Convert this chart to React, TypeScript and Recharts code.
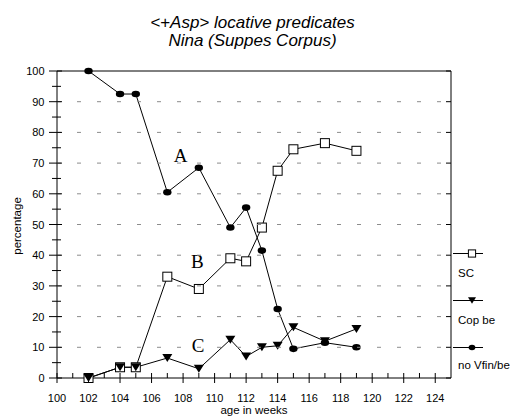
import React from "react";
import { ComposedChart, Line, XAxis, YAxis, ReferenceDot } from "recharts";

// age in weeks where a sample was taken
const weeks = [102, 104, 105, 107, 109, 111, 112, 113, 114, 115, 117, 119];

// percentages per series
const scValues = [0, 3.5, 3.5, 33, 29, 39, 38, 49, 67.5, 74.5, 76.5, 74];
const copBeValues = [0, 3.5, 3.5, 6.5, 3, 12.5, 7, 10, 10.5, 16.5, 12, 16];
const noVfinValues = [100, 92.5, 92.5, 60.5, 68.5, 49, 55.5, 41.5, 22.5, 9.5, 11.5, 10];

const xTicks = [
  100, 101, 102, 103, 104, 105, 106, 107, 108, 109, 110, 111, 112,
  113, 114, 115, 116, 117, 118, 119, 120, 121, 122, 123, 124,
];
const yTicks = [0, 5, 10, 15, 20, 25, 30, 35, 40, 45, 50, 55, 60, 65, 70, 75, 80, 85, 90, 95, 100];
const gridValues = [10, 20, 30, 40, 50, 60, 70, 80, 90];

// phase labels drawn inside the plot
const annotations = [
  { label: "A", week: 107.85, pct: 70.4 },
  { label: "B", week: 108.9, pct: 35.8 },
  { label: "C", week: 108.95, pct: 8.6 },
];

const SANS = "'Liberation Sans', Arial, sans-serif";
const SERIF = "'Liberation Serif', 'Times New Roman', serif";

// chart box
const W = 512;
const H = 417;
const MARGIN = { top: 71, right: 61, bottom: 9, left: 0 };
const Y_AXIS_W = 57;
const X_AXIS_H = 30;
const PLOT_W = W - MARGIN.left - MARGIN.right - Y_AXIS_W;
const PLOT_H = H - MARGIN.top - MARGIN.bottom - X_AXIS_H;

type MarkerKind = "square" | "triangle" | "circle";

const series: { key: string; name: string; marker: MarkerKind }[] = [
  { key: "sc", name: "SC", marker: "square" },
  { key: "copBe", name: "Cop be", marker: "triangle" },
  { key: "noVfin", name: "no Vfin/be", marker: "circle" },
];

const data = weeks.map((week, i) => ({
  week,
  sc: scValues[i],
  copBe: copBeValues[i],
  noVfin: noVfinValues[i],
}));

function Marker({ kind, cx, cy, scale = 1 }: { kind: MarkerKind; cx: number; cy: number; scale?: number }) {
  if (kind === "square") {
    const s = 4.5 * scale;
    return <rect x={cx - s} y={cy - s} width={s * 2} height={s * 2} fill="#ffffff" stroke="#000000" strokeWidth={1} />;
  }
  if (kind === "triangle") {
    const w = 5 * scale;
    const h = 4 * scale;
    return <polygon points={`${cx - w},${cy - h} ${cx + w},${cy - h} ${cx},${cy + h}`} fill="#000000" />;
  }
  return <ellipse cx={cx} cy={cy} rx={4.2 * scale} ry={3.3 * scale} fill="#000000" />;
}

const makeDot = (kind: MarkerKind) => (props: any) => (
  <g key={`${kind}-${props.index}`}>
    <Marker kind={kind} cx={props.cx} cy={props.cy} />
  </g>
);

function XTick({ x, y, payload }: any) {
  const v = payload.value;
  const major = v % 2 === 0;
  return (
    <g>
      <line x1={x} x2={x} y1={y - 5} y2={major ? y + 5 : y} stroke="#000000" />
      {major && (
        <text x={x} y={y + 24} textAnchor="middle" fontSize={11} fontFamily={SANS} fill="#000000">
          {v}
        </text>
      )}
    </g>
  );
}

// y tick also carries the dashed grid, the top border and the right frame
function YTick({ x, y, payload }: any) {
  const v = payload.value;
  const major = v % 10 === 0;
  const right = x + PLOT_W;
  return (
    <g>
      {gridValues.includes(v) && (
        <line x1={x} x2={right} y1={y} y2={y} stroke="#8c8c8c" strokeDasharray="4 16" />
      )}
      {v === 100 && <line x1={x} x2={right} y1={y} y2={y} stroke="#000000" />}
      {v === 0 && <line x1={right} x2={right} y1={y} y2={y - PLOT_H} stroke="#000000" />}
      {major && <line x1={right - 5} x2={right} y1={y} y2={y} stroke="#000000" />}
      <line x1={major ? x - 8 : x - 5} x2={major ? x + 5 : x + 4} y1={y} y2={y} stroke="#000000" />
      {major && (
        <text x={x - 12.5} y={y} dy={4} textAnchor="end" fontSize={11} fontFamily={SANS} fill="#000000">
          {v}
        </text>
      )}
    </g>
  );
}

// legend row positions on the page
const legendLineY = [253.5, 300.5, 347.5];
const legendLabelY = [276.5, 324, 368.5];

export default function App() {
  return (
    <div style={{ position: "absolute", left: 0, top: 0, width: W, height: H }}>
      <ComposedChart width={W} height={H} data={data} margin={MARGIN}>
        <XAxis
          dataKey="week"
          type="number"
          domain={[100, 125]}
          ticks={xTicks}
          interval={0}
          height={X_AXIS_H}
          tickSize={0}
          tickMargin={0}
          tick={<XTick />}
          axisLine={{ stroke: "#000000" }}
        />
        <YAxis
          domain={[0, 100]}
          ticks={yTicks}
          interval={0}
          width={Y_AXIS_W}
          tickSize={0}
          tickMargin={0}
          tick={<YTick />}
          axisLine={{ stroke: "#000000" }}
        />
        {series.map((s) => (
          <Line
            key={s.key}
            dataKey={s.key}
            name={s.name}
            stroke="#000000"
            strokeWidth={1}
            dot={makeDot(s.marker)}
            activeDot={false}
            isAnimationActive={false}
          />
        ))}
        {annotations.map((a) => (
          <ReferenceDot
            key={a.label}
            x={a.week}
            y={a.pct}
            r={0}
            shape={(p: any) => (
              <text x={p.cx} y={p.cy} textAnchor="middle" fontSize={19} fontFamily={SERIF} fill="#000000">
                {a.label}
              </text>
            )}
          />
        ))}
      </ComposedChart>
      <svg
        width={W}
        height={H}
        style={{ position: "absolute", left: 0, top: 0, pointerEvents: "none" }}
      >
        <g fontFamily={SANS} fontStyle="italic" fontSize={17} textAnchor="middle" fill="#000000">
          <text x={252.5} y={27.5}>{"<+Asp> locative predicates"}</text>
          <text x={252.5} y={46}>Nina (Suppes Corpus)</text>
        </g>
        <text
          transform="translate(21,226) rotate(-90)"
          textAnchor="middle"
          fontSize={11.5}
          fontFamily={SANS}
          fill="#000000"
        >
          percentage
        </text>
        <text x={254} y={414} textAnchor="middle" fontSize={11.5} fontFamily={SANS} fill="#000000">
          age in weeks
        </text>
        {series.map((s, i) => (
          <g key={s.key}>
            <line x1={453} x2={483} y1={legendLineY[i]} y2={legendLineY[i]} stroke="#000000" />
            <Marker kind={s.marker} cx={472} cy={legendLineY[i]} scale={0.8} />
            <text x={458} y={legendLabelY[i]} fontSize={11.5} fontFamily={SANS} fill="#000000">
              {s.name}
            </text>
          </g>
        ))}
      </svg>
    </div>
  );
}
